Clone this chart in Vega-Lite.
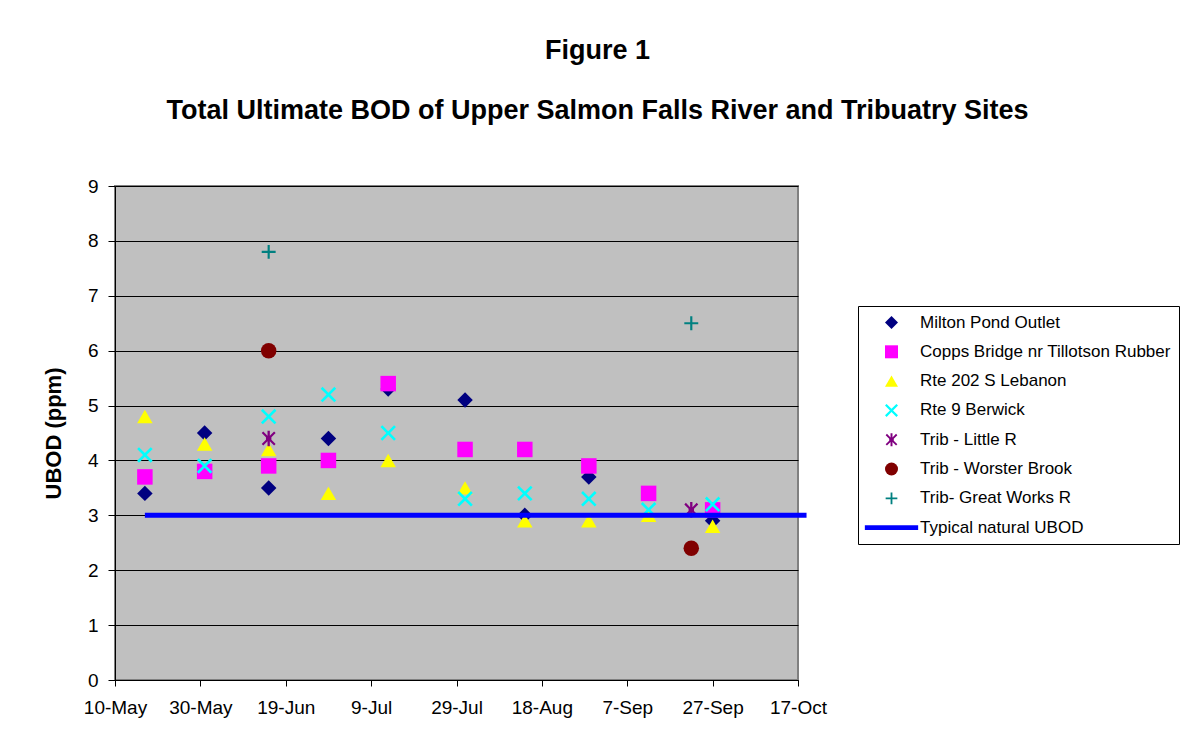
{
  "$schema": "https://vega.github.io/schema/vega-lite/v6.json",
  "width": 683,
  "height": 494,
  "autosize": {"type": "none"},
  "padding": {"left": 115, "top": 186, "right": 385, "bottom": 69},
  "background": "white",
  "title": {
    "text": "Figure 1",
    "subtitle": "Total Ultimate BOD of Upper Salmon Falls River and Tribuatry Sites",
    "anchor": "middle",
    "frame": "group",
    "dx": 141,
    "offset": 52,
    "font": "Liberation Sans",
    "fontSize": 27,
    "fontWeight": "bold",
    "color": "black",
    "subtitleFont": "Liberation Sans",
    "subtitleFontSize": 27,
    "subtitleFontWeight": "bold",
    "subtitleColor": "black",
    "subtitlePadding": 33
  },
  "datasets": {
    "samples": [
      {"date": "2003-05-17", "series": "Milton Pond Outlet", "value": 3.4},
      {"date": "2003-05-31", "series": "Milton Pond Outlet", "value": 4.5},
      {"date": "2003-06-15", "series": "Milton Pond Outlet", "value": 3.5},
      {"date": "2003-06-29", "series": "Milton Pond Outlet", "value": 4.4},
      {"date": "2003-07-13", "series": "Milton Pond Outlet", "value": 5.3},
      {"date": "2003-07-31", "series": "Milton Pond Outlet", "value": 5.1},
      {"date": "2003-08-14", "series": "Milton Pond Outlet", "value": 3.0},
      {"date": "2003-08-29", "series": "Milton Pond Outlet", "value": 3.7},
      {"date": "2003-09-27", "series": "Milton Pond Outlet", "value": 2.9},
      {"date": "2003-05-17", "series": "Copps Bridge nr Tillotson Rubber", "value": 3.7},
      {"date": "2003-05-31", "series": "Copps Bridge nr Tillotson Rubber", "value": 3.8},
      {"date": "2003-06-15", "series": "Copps Bridge nr Tillotson Rubber", "value": 3.9},
      {"date": "2003-06-29", "series": "Copps Bridge nr Tillotson Rubber", "value": 4.0},
      {"date": "2003-07-13", "series": "Copps Bridge nr Tillotson Rubber", "value": 5.4},
      {"date": "2003-07-31", "series": "Copps Bridge nr Tillotson Rubber", "value": 4.2},
      {"date": "2003-08-14", "series": "Copps Bridge nr Tillotson Rubber", "value": 4.2},
      {"date": "2003-08-29", "series": "Copps Bridge nr Tillotson Rubber", "value": 3.9},
      {"date": "2003-09-12", "series": "Copps Bridge nr Tillotson Rubber", "value": 3.4},
      {"date": "2003-09-27", "series": "Copps Bridge nr Tillotson Rubber", "value": 3.1},
      {"date": "2003-05-17", "series": "Rte 202 S Lebanon", "value": 4.8},
      {"date": "2003-05-31", "series": "Rte 202 S Lebanon", "value": 4.3},
      {"date": "2003-06-15", "series": "Rte 202 S Lebanon", "value": 4.2},
      {"date": "2003-06-29", "series": "Rte 202 S Lebanon", "value": 3.4},
      {"date": "2003-07-13", "series": "Rte 202 S Lebanon", "value": 4.0},
      {"date": "2003-07-31", "series": "Rte 202 S Lebanon", "value": 3.5},
      {"date": "2003-08-14", "series": "Rte 202 S Lebanon", "value": 2.9},
      {"date": "2003-08-29", "series": "Rte 202 S Lebanon", "value": 2.9},
      {"date": "2003-09-12", "series": "Rte 202 S Lebanon", "value": 3.0},
      {"date": "2003-09-27", "series": "Rte 202 S Lebanon", "value": 2.8},
      {"date": "2003-05-17", "series": "Rte 9 Berwick", "value": 4.1},
      {"date": "2003-05-31", "series": "Rte 9 Berwick", "value": 3.9},
      {"date": "2003-06-15", "series": "Rte 9 Berwick", "value": 4.8},
      {"date": "2003-06-29", "series": "Rte 9 Berwick", "value": 5.2},
      {"date": "2003-07-13", "series": "Rte 9 Berwick", "value": 4.5},
      {"date": "2003-07-31", "series": "Rte 9 Berwick", "value": 3.3},
      {"date": "2003-08-14", "series": "Rte 9 Berwick", "value": 3.4},
      {"date": "2003-08-29", "series": "Rte 9 Berwick", "value": 3.3},
      {"date": "2003-09-12", "series": "Rte 9 Berwick", "value": 3.1},
      {"date": "2003-09-27", "series": "Rte 9 Berwick", "value": 3.2},
      {"date": "2003-06-15", "series": "Trib - Little R", "value": 4.4},
      {"date": "2003-09-22", "series": "Trib - Little R", "value": 3.1},
      {"date": "2003-06-15", "series": "Trib - Worster Brook", "value": 6.0},
      {"date": "2003-09-22", "series": "Trib - Worster Brook", "value": 2.4},
      {"date": "2003-06-15", "series": "Trib- Great Works R", "value": 7.8},
      {"date": "2003-09-22", "series": "Trib- Great Works R", "value": 6.5}
    ],
    "typical": [
      {"date": "2003-05-17", "value": 3},
      {"date": "2003-06-01", "value": 3},
      {"date": "2003-06-16", "value": 3},
      {"date": "2003-06-30", "value": 3},
      {"date": "2003-07-14", "value": 3},
      {"date": "2003-08-01", "value": 3},
      {"date": "2003-08-15", "value": 3},
      {"date": "2003-08-30", "value": 3},
      {"date": "2003-09-13", "value": 3},
      {"date": "2003-09-27", "value": 3},
      {"date": "2003-10-19", "value": 3}
    ]
  },
  "layer": [
    {
      "data": {"name": "samples"},
      "mark": {"type": "point", "filled": true, "size": 240, "opacity": 1, "strokeWidth": 0},
      "encoding": {
        "x": {
          "field": "date",
          "type": "temporal",
          "title": null,
          "scale": {
            "type": "utc",
            "nice": false,
            "domain": [
              {"year": 2003, "month": 5, "date": 10, "utc": true},
              {"year": 2003, "month": 10, "date": 17, "utc": true}
            ]
          },
          "axis": {
            "format": "%-d-%b",
            "grid": false,
            "values": [
              {"year": 2003, "month": 5, "date": 10, "utc": true},
              {"year": 2003, "month": 5, "date": 30, "utc": true},
              {"year": 2003, "month": 6, "date": 19, "utc": true},
              {"year": 2003, "month": 7, "date": 9, "utc": true},
              {"year": 2003, "month": 7, "date": 29, "utc": true},
              {"year": 2003, "month": 8, "date": 18, "utc": true},
              {"year": 2003, "month": 9, "date": 7, "utc": true},
              {"year": 2003, "month": 9, "date": 27, "utc": true},
              {"year": 2003, "month": 10, "date": 17, "utc": true}
            ],
            "tickSize": 6,
            "labelPadding": 12,
            "labelFontSize": 19,
            "labelAngle": 0,
            "labelFlush": false,
            "labelOverlap": false
          }
        },
        "y": {
          "field": "value",
          "type": "quantitative",
          "title": "UBOD (ppm)",
          "scale": {"domain": [0, 9], "nice": false},
          "axis": {
            "values": [0, 1, 2, 3, 4, 5, 6, 7, 8, 9],
            "format": "d",
            "grid": true,
            "gridColor": "black",
            "gridWidth": 1,
            "gridOpacity": 1,
            "tickSize": 7,
            "labelPadding": 10,
            "labelFontSize": 19,
            "titleFontSize": 22,
            "titleFontWeight": "bold",
            "titleX": -55,
            "titleBaseline": "alphabetic"
          }
        },
        "color": {
          "field": "series",
          "type": "nominal",
          "scale": {
            "domain": ["Milton Pond Outlet", "Copps Bridge nr Tillotson Rubber", "Rte 202 S Lebanon", "Rte 9 Berwick", "Trib - Little R", "Trib - Worster Brook", "Trib- Great Works R", "Typical natural UBOD"],
            "range": ["#000080", "#FF00FF", "#FFFF00", "#00FFFF", "#800080", "#800000", "#008080", "#0000FF"]
          },
          "legend": {"title": null}
        },
        "shape": {
          "field": "series",
          "type": "nominal",
          "scale": {
            "domain": ["Milton Pond Outlet", "Copps Bridge nr Tillotson Rubber", "Rte 202 S Lebanon", "Rte 9 Berwick", "Trib - Little R", "Trib - Worster Brook", "Trib- Great Works R", "Typical natural UBOD"],
            "range": [
              "diamond",
              "square",
              "triangle-up",
              "M-1,-0.76L-0.76,-1L0,-0.24L0.76,-1L1,-0.76L0.24,0L1,0.76L0.76,1L0,0.24L-0.76,1L-1,0.76L-0.24,0Z",
              "M-0.9,-0.7L-0.7,-0.9L-0.15,-0.35L-0.15,-1L0.15,-1L0.15,-0.35L0.7,-0.9L0.9,-0.7L0.35,-0.15L0.35,0.15L0.9,0.7L0.7,0.9L0.15,0.35L0.15,1L-0.15,1L-0.15,0.35L-0.7,0.9L-0.9,0.7L-0.35,0.15L-0.35,-0.15Z",
              "circle",
              "M-0.14,-0.9H0.14V-0.14H0.9V0.14H0.14V0.9H-0.14V0.14H-0.9V-0.14H-0.14Z",
              "M-4.1,-0.36H4.1V0.36H-4.1Z"
            ]
          },
          "legend": {"title": null}
        }
      }
    },
    {
      "data": {"name": "typical"},
      "mark": {"type": "line", "color": "#0000FF", "strokeWidth": 5, "clip": false},
      "encoding": {
        "x": {"field": "date", "type": "temporal"},
        "y": {"field": "value", "type": "quantitative"}
      }
    }
  ],
  "config": {
    "font": "Liberation Sans",
    "view": {"fill": "#C0C0C0", "stroke": "#808080", "strokeWidth": 2},
    "axis": {
      "domainColor": "black",
      "domainWidth": 1,
      "tickColor": "black",
      "tickWidth": 1,
      "labelColor": "black",
      "titleColor": "black",
      "labelFont": "Liberation Sans",
      "titleFont": "Liberation Sans"
    },
    "legend": {
      "orient": "none",
      "legendX": 743,
      "legendY": 120,
      "padding": 8,
      "fillColor": "white",
      "strokeColor": "black",
      "strokeWidth": 1,
      "symbolSize": 169,
      "symbolStrokeWidth": 0,
      "symbolOffset": 17,
      "labelOffset": 20,
      "rowPadding": 11.3,
      "labelFont": "Liberation Sans",
      "labelFontSize": 17,
      "labelColor": "black",
      "labelLimit": 400
    }
  }
}
